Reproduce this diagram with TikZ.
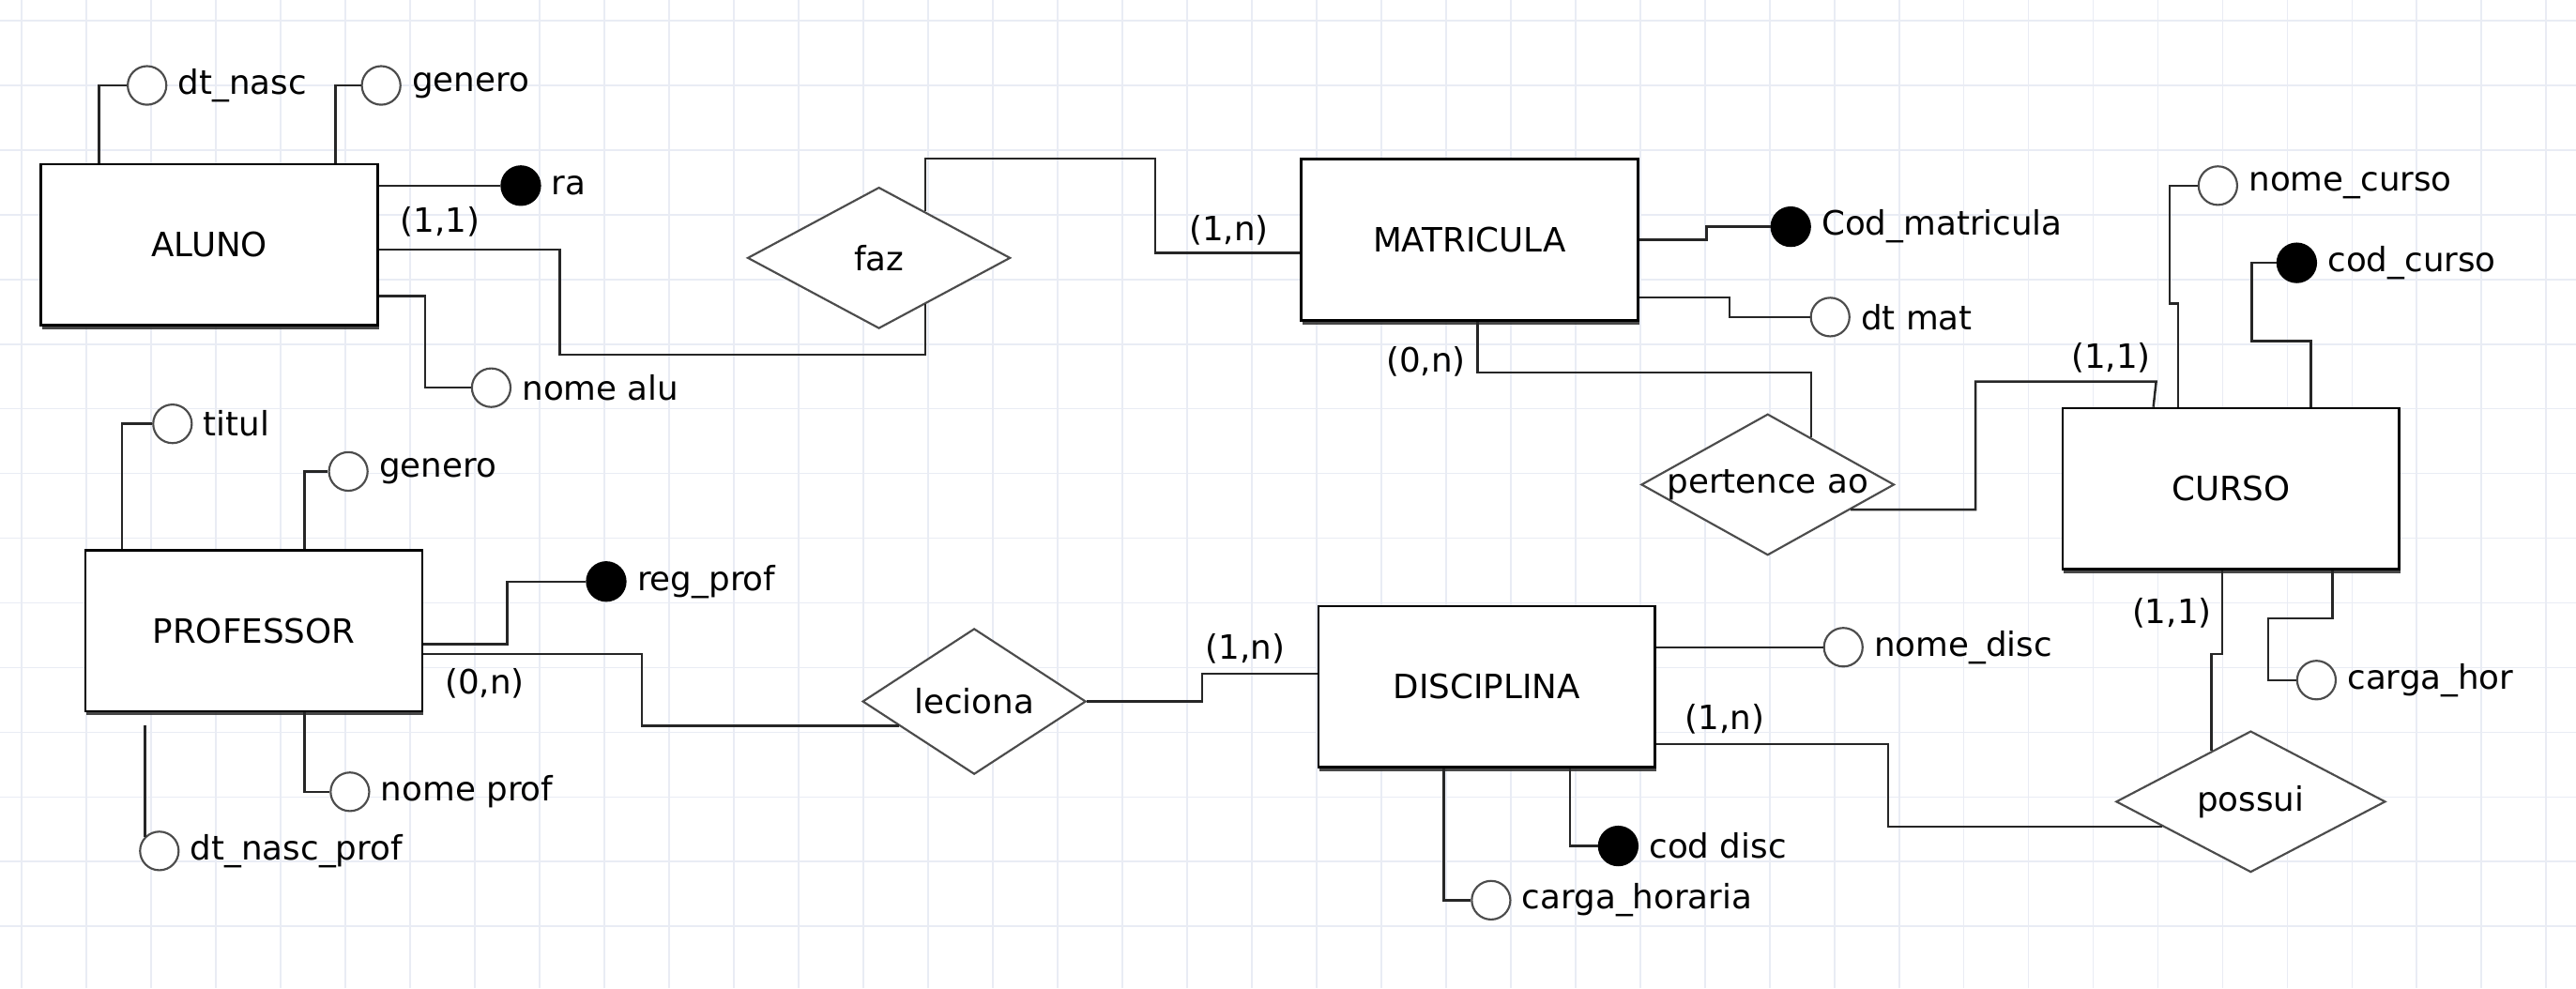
\documentclass[tikz,border=0pt]{standalone}
\usepackage{fontspec}
\setmainfont{DejaVu Sans}
\usetikzlibrary{positioning, calc, shapes.geometric, shadows}
\definecolor{gridgray}{RGB}{233,236,244}

\begin{document}
\begin{tikzpicture}[
    x=0.02cm, y=-0.02cm,
    font=\fontsize{11.6}{14}\selectfont,
    entity/.style={
        rectangle,
        draw=black,
        line width=0.9pt,
        fill=white,
        minimum width=4.1cm,
        minimum height=1.96cm,
        drop shadow={shadow xshift=0.4pt, shadow yshift=-1.4pt, fill=black!80, opacity=0.9}
    },
    relship/.style={diamond, draw=black!70, line width=0.7pt, fill=white, inner sep=0pt, minimum height=1.72cm},
    attr/.style={circle, draw=black!70, line width=0.7pt, fill=white, inner sep=0pt, minimum size=0.47cm},
    keyattr/.style={attr, draw=black, fill=black},
    attrname/.style={inner sep=0pt},
    card/.style={inner sep=0pt},
    conn/.style={draw=black!85, line width=0.8pt},
    gridline/.style={draw=gridgray, line width=0.6pt}
]
    % Canvas and grid
    \fill[white] (0,0) rectangle (1568,601.5);
    \useasboundingbox (0,0) rectangle (1568,601.5);
    \foreach \gx in {0,...,39}
        \draw[gridline] ({13.3+39.4*\gx},0) -- ++(0,601.5);
    \foreach \gy in {0,...,14}
        \draw[gridline] (0,{12.4+39.4*\gy}) -- ++(1568,0);

    % Entities
    \node[entity] (aluno) at (127.5,149) {ALUNO};
    \node[entity] (matricula) at (894.5,146) {MATRICULA};
    \node[entity] (curso) at (1358,297.5) {CURSO};
    \node[entity] (disciplina) at (905,418) {DISCIPLINA};
    \node[entity] (professor) at (154.5,384) {PROFESSOR};

    % Relationships
    \node[relship, minimum width=3.2cm] (faz) at (535,157) {faz};
    \node[relship, minimum width=3.08cm] (pertence) at (1076,295) {\makebox[0pt]{pertence ao}};
    \node[relship, minimum width=2.72cm] (leciona) at (593,427) {leciona};
    \node[relship, minimum width=3.28cm] (possui) at (1370,488) {possui};

    % Attributes of ALUNO
    \node[attr] (dtnasc) at (89.5,52) {};
    \node[attrname, right=3.5pt of dtnasc] (dtnasc-t) {dt\_nasc};
    \node[attr] (generoal) at (232,52) {};
    \node[attrname, right=3.5pt of generoal] (generoal-t) {genero};
    \node[keyattr] (ra) at (317,113) {};
    \node[attrname, right=3.5pt of ra] (ra-t) {ra};
    \node[attr] (nomealu) at (299,236) {};
    \node[attrname, right=3.5pt of nomealu] (nomealu-t) {nome alu};

    % Attributes of MATRICULA
    \node[keyattr] (codmat) at (1090,138) {};
    \node[attrname, right=3.5pt of codmat] (codmat-t) {Cod\_matricula};
    \node[attr] (dtmat) at (1114,193) {};
    \node[attrname, right=3.5pt of dtmat] (dtmat-t) {dt mat};

    % Attributes of CURSO
    \node[attr] (nomecurso) at (1350,113) {};
    \node[attrname, right=3.5pt of nomecurso] (nomecurso-t) {nome\_curso};
    \node[keyattr] (codcurso) at (1398,160) {};
    \node[attrname, right=3.5pt of codcurso] (codcurso-t) {cod\_curso};
    \node[attr] (cargahor) at (1410,414) {};
    \node[attrname, right=3.5pt of cargahor] (cargahor-t) {carga\_hor};

    % Attributes of DISCIPLINA
    \node[attr] (nomedisc) at (1122,394) {};
    \node[attrname, right=3.5pt of nomedisc] (nomedisc-t) {nome\_disc};
    \node[keyattr] (coddisc) at (985,515) {};
    \node[attrname, right=3.5pt of coddisc] (coddisc-t) {cod disc};
    \node[attr] (cargahoraria) at (907.6,548) {};
    \node[attrname, right=3.5pt of cargahoraria] (cargahoraria-t) {carga\_horaria};

    % Attributes of PROFESSOR
    \node[attr] (titul) at (105,258) {};
    \node[attrname, right=3.5pt of titul] (titul-t) {titul};
    \node[attr] (generopr) at (212,287) {};
    \node[attrname, right=3.5pt of generopr] (generopr-t) {genero};
    \node[keyattr] (regprof) at (369,354) {};
    \node[attrname, right=3.5pt of regprof] (regprof-t) {reg\_prof};
    \node[attr] (nomeprof) at (213,482) {};
    \node[attrname, right=3.5pt of nomeprof] (nomeprof-t) {nome prof};
    \node[attr] (dtnascprof) at (97,518) {};
    \node[attrname, right=3.5pt of dtnascprof] (dtnascprof-t) {dt\_nasc\_prof};

    % Cardinalities
    \node[card] (c-aluno-faz) at (268,135) {(1,1)};
    \node[card] (c-mat-faz) at (748,140) {(1,n)};
    \node[card] (c-mat-pert) at (868,220) {(0,n)};
    \node[card] (c-curso-pert) at (1285,218) {(1,1)};
    \node[card] (c-curso-possui) at (1322,373) {(1,1)};
    \node[card] (c-disc-possui) at (1050,438) {(1,n)};
    \node[card] (c-disc-lec) at (758,395) {(1,n)};
    \node[card] (c-prof-lec) at (295,416) {(0,n)};

    % ALUNO links
    \draw[conn] (aluno.north west) ++(36,0) |- (dtnasc.west);
    \draw[conn] (aluno.north west) ++(180,0) |- (generoal.west);
    \draw[conn] (aluno.east |- ra) -- (ra.west);
    \draw[conn] (aluno.north east) ++(0,81) -- ++(28,0) |- (nomealu.west);
    \draw[conn] (aluno.east) ++(0,3) -- ++(110,0) -- ++(0,64) -| ($(faz.south)!0.35!(faz.east)$);
    \draw[conn] ($(faz.north)!0.35!(faz.east)$) |- ++(140,-32) |- ($(matricula.west)+(0,8)$);

    % MATRICULA links
    \draw[conn] (matricula.east) -- ++(41,0) |- (codmat.west);
    \draw[conn] (matricula.north east) ++(0,85) -- ++(55,0) |- (dtmat.west);
    \draw[conn] (matricula.south) ++(5,0) -- ++(0,31) -| ($(pertence.north)!0.34!(pertence.east)$);
    \draw[conn] ($(pertence.east)!0.35!(pertence.south)$) -- ++(76,0) |- ++(110,-78) -- ($(curso.north west)+(56,0)$);

    % CURSO links
    \draw[conn] (curso.north west) ++(71,0) -- ++(0,-63) -- ++(-5,0) |- (nomecurso.west);
    \draw[conn] (curso.north west) ++(152,0) -- ++(0,-40) -- ++(-36,0) |- (codcurso.west);
    \draw[conn] (curso.south west) ++(98,0) -- ++(0,51) -| ($(possui.north)!0.29!(possui.west)$);
    \draw[conn] (curso.south west) ++(165,0) -- ++(0,29) -- ++(-39,0) |- (cargahor.west);

    % DISCIPLINA links
    \draw[conn] (disciplina.east) ++(0,35) -- ++(141,0) |- ($(possui.west)!0.35!(possui.south)$);
    \draw[conn] (disciplina.east |- nomedisc) -- (nomedisc.west);
    \draw[conn] (disciplina.south west) ++(154,0) |- (coddisc.west);
    \draw[conn] (disciplina.south west) ++(77,0) |- (cargahoraria.west);
    \draw[conn] (leciona.east) -- ++(70,0) |- ($(disciplina.west)+(0,-8)$);

    % PROFESSOR links
    \draw[conn] (professor.east) ++(0,14) -- ++(133,0) |- ($(leciona.west)!0.33!(leciona.south)$);
    \draw[conn] (professor.east) ++(0,8) -- ++(51,0) |- (regprof.west);
    \draw[conn] (professor.north west) ++(23,0) |- (titul.west);
    \draw[conn] (professor.north west) ++(134,0) |- (generopr.west);
    \draw[conn] (professor.south west) ++(134,0) |- (nomeprof.west);
    \draw[conn] (professor.south west -| dtnascprof.north west) ++(0,8) -- (dtnascprof.north west);
\end{tikzpicture}
\end{document}
